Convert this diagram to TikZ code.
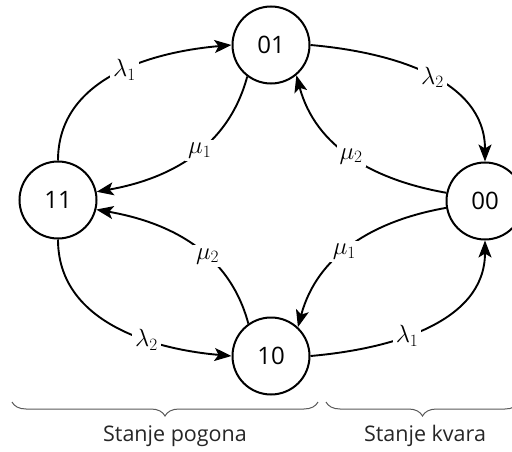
\documentclass[tikz,border=0pt]{standalone}
\usepackage{fontspec}
\setmainfont{Open Sans}
\usetikzlibrary{arrows.meta,decorations.pathreplacing}
\begin{document}
\begin{tikzpicture}[x=1pt,y=-1pt,
 stnode/.style={circle,draw,line width=2pt,minimum size=77pt,inner sep=0pt,font=\fontsize{24}{28}\selectfont},
 conn/.style={line width=1.9pt,-{Stealth[length=17pt,width=13pt,inset=4pt]}},
 lbl/.style={fill=white,inner sep=3pt,font=\fontsize{23}{27}\selectfont},
 brc/.style={draw=black!65,line width=1pt,decorate,decoration={brace,amplitude=14pt,mirror}},
 capt/.style={text=black!85,font=\fontsize{21.5}{25}\selectfont}]
\useasboundingbox (0,0) rectangle (512,452);
\clip (0,0) rectangle (512,452);
\node[stnode] (n01) at (271,45) {01};
\node[stnode] (n11) at (58,200) {11};
\node[stnode] (n00) at (485,201) {00};
\node[stnode] (n10) at (271,356) {10};

\draw[conn] (n11.90) to[out=90,in=185] node[lbl,pos=0.55]{$\lambda_1$} (n01.180);
\draw[conn] (n01.0) to[out=-5,in=90] node[lbl,pos=0.52]{$\lambda_2$} (n00.90);
\draw[conn] (n01.233) to[out=-105,in=10] node[lbl,pos=0.45]{$\mu_1$} (n11.12);
\draw[conn] (n00.168) to[out=170,in=-75] node[lbl,pos=0.5]{$\mu_2$} (n01.310);
\draw[conn] (n10.125) to[out=105,in=-10] node[lbl,pos=0.4]{$\mu_2$} (n11.-14);
\draw[conn] (n00.190) to[out=190,in=75] node[lbl,pos=0.55]{$\mu_1$} (n10.47);
\draw[conn] (n11.-90) to[out=-90,in=175] node[lbl,pos=0.65]{$\lambda_2$} (n10.180);
\draw[conn] (n10.0) to[out=5,in=-90] node[lbl,pos=0.4]{$\lambda_1$} (n00.-90);

\coordinate (b1a) at (12,402);
\coordinate (b1b) at (318,402);
\coordinate (b2a) at (326,402);
\coordinate (b2b) at (519,402);
\draw[brc] (b1a) -- (b1b);
\draw[brc] (b2a) -- (b2b);
\node[capt] (c1) at (175,436) {Stanje pogona};
\node[capt] (c2) at (425,436) {Stanje kvara};
\end{tikzpicture}
\end{document}
